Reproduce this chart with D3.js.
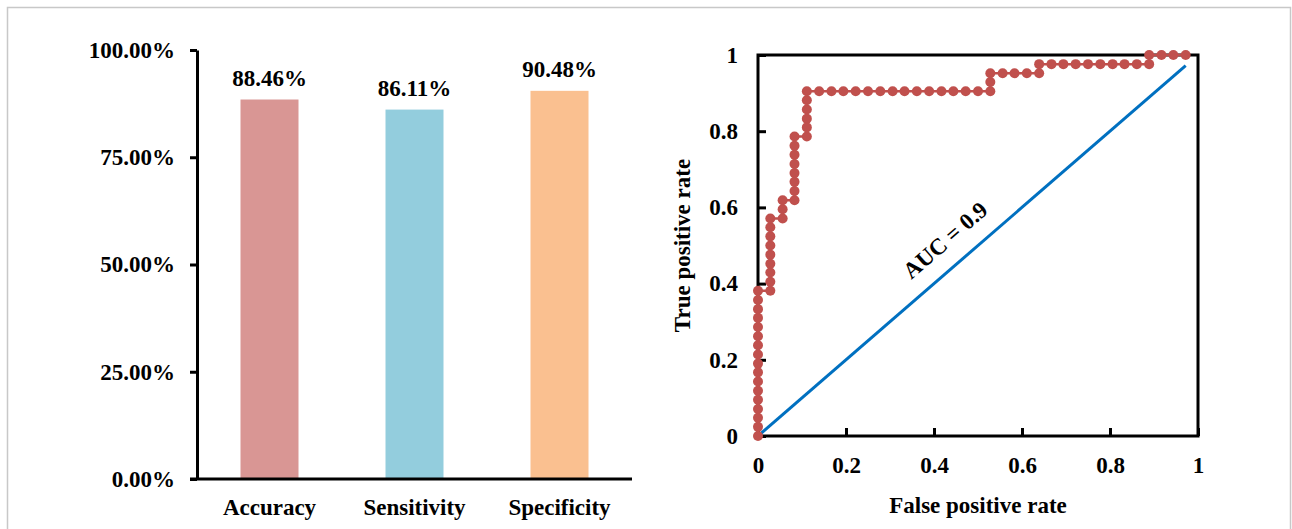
<!DOCTYPE html>
<html>
<head>
<meta charset="utf-8">
<script src="https://cdn.jsdelivr.net/npm/d3@7"></script>
<style>
  body { margin: 0; background: #fff; }
  text { font-family: "Liberation Serif", "Times New Roman", serif; font-weight: bold; fill: #000; }
</style>
</head>
<body>
<svg width="1292" height="529"></svg>
<script>
// bar chart data
var categories = ["Accuracy", "Sensitivity", "Specificity"];
var scores = [0.8846, 0.8611, 0.9048];
var barColors = ["#d99694", "#93cddd", "#fac090"];
var barTicks = [0, 0.25, 0.5, 0.75, 1];

// ROC curve points (false positive rate, true positive rate)
var fpr = [0, 0, 0, 0, 0, 0, 0, 0, 0, 0, 0, 0, 0, 0, 0, 0, 0,
  0.028, 0.028, 0.028, 0.028, 0.028, 0.028, 0.028, 0.028, 0.028,
  0.056, 0.056, 0.056,
  0.083, 0.083, 0.083, 0.083, 0.083, 0.083, 0.083, 0.083,
  0.111, 0.111, 0.111, 0.111, 0.111, 0.111,
  0.139, 0.167, 0.194, 0.222, 0.25, 0.278, 0.306, 0.333, 0.361, 0.389, 0.417, 0.444, 0.472, 0.5, 0.528,
  0.528, 0.528,
  0.556, 0.583, 0.611, 0.639,
  0.639,
  0.667, 0.694, 0.722, 0.75, 0.778, 0.806, 0.833, 0.861, 0.889,
  0.889,
  0.917, 0.944, 0.972];
var tpr = [0, 0.024, 0.048, 0.071, 0.095, 0.119, 0.143, 0.167, 0.19, 0.214, 0.238, 0.262, 0.286, 0.31, 0.333, 0.357, 0.381,
  0.381, 0.405, 0.429, 0.452, 0.476, 0.5, 0.524, 0.548, 0.571,
  0.571, 0.595, 0.619,
  0.619, 0.643, 0.667, 0.69, 0.714, 0.738, 0.762, 0.786,
  0.786, 0.81, 0.833, 0.857, 0.881, 0.905,
  0.905, 0.905, 0.905, 0.905, 0.905, 0.905, 0.905, 0.905, 0.905, 0.905, 0.905, 0.905, 0.905, 0.905, 0.905,
  0.929, 0.952,
  0.952, 0.952, 0.952, 0.952,
  0.976,
  0.976, 0.976, 0.976, 0.976, 0.976, 0.976, 0.976, 0.976, 0.976,
  1,
  1, 1, 1];
var diagX = [0, 0.972];
var diagY = [0, 0.972];
var rocTicks = [0, 0.2, 0.4, 0.6, 0.8, 1];
var aucLabel = "AUC = 0.9";

var svg = d3.select("svg");

// light frame round the figure
svg.append("rect")
  .attr("x", 7.5).attr("y", 7.5)
  .attr("width", 1283).attr("height", 560)
  .attr("fill", "none")
  .attr("stroke", "#c8c8c8")
  .attr("stroke-width", 1.5);

// ---------- bar chart ----------
var xBand = d3.scaleBand()
  .domain(categories)
  .range([197, 632])
  .paddingInner(0.6)
  .paddingOuter(0.3);
var yBar = d3.scaleLinear().domain([0, 1]).range([479, 50]);

var bars = svg.append("g");
bars.selectAll("rect")
  .data(categories)
  .enter().append("rect")
  .attr("x", function(d) { return xBand(d); })
  .attr("y", function(d, i) { return yBar(scores[i]); })
  .attr("width", xBand.bandwidth())
  .attr("height", function(d, i) { return yBar(0) - yBar(scores[i]); })
  .attr("fill", function(d, i) { return barColors[i]; });

bars.selectAll(".val")
  .data(categories)
  .enter().append("text")
  .attr("class", "val")
  .attr("x", function(d) { return xBand(d) + xBand.bandwidth() / 2; })
  .attr("y", function(d, i) { return yBar(scores[i]) - 14; })
  .attr("text-anchor", "middle")
  .attr("font-size", 23)
  .text(function(d, i) { return (scores[i] * 100).toFixed(2) + "%"; });

var yAxisBar = svg.append("g")
  .attr("transform", "translate(197,0)")
  .call(d3.axisLeft(yBar).tickValues(barTicks).tickFormat(d3.format(".2%"))
    .tickSize(7).tickSizeOuter(0).tickPadding(15));
yAxisBar.selectAll("text").attr("font-size", 23).attr("font-family", null);
yAxisBar.selectAll("line").attr("stroke-width", 3);
yAxisBar.select(".domain").attr("stroke-width", 3);

var xAxisBar = svg.append("g")
  .attr("transform", "translate(0,479)")
  .call(d3.axisBottom(xBand).tickSize(0).tickPadding(20));
xAxisBar.select(".domain").remove();
xAxisBar.selectAll("text").attr("font-size", 23).attr("font-family", null);
svg.append("line")
  .attr("x1", 190).attr("x2", xBand.range()[1])
  .attr("y1", 479).attr("y2", 479)
  .attr("stroke", "#000").attr("stroke-width", 3);

// ---------- ROC curve ----------
var xR = d3.scaleLinear().domain([0, 1]).range([758, 1198]);
var yR = d3.scaleLinear().domain([0, 1]).range([436, 55]);

var xAxisR = svg.append("g")
  .attr("transform", "translate(0,436)")
  .call(d3.axisBottom(xR).tickValues(rocTicks).tickFormat(function(d) { return String(d); })
    .tickSizeInner(-8).tickSizeOuter(0).tickPadding(21));
xAxisR.select(".domain").remove();
xAxisR.selectAll("line").attr("stroke-width", 3);
xAxisR.selectAll("text").attr("font-size", 23).attr("font-family", null);

var yAxisR = svg.append("g")
  .attr("transform", "translate(758,0)")
  .call(d3.axisLeft(yR).tickValues(rocTicks).tickFormat(function(d) { return String(d); })
    .tickSizeInner(-8).tickSizeOuter(0).tickPadding(20));
yAxisR.select(".domain").remove();
yAxisR.selectAll("line").attr("stroke-width", 3);
yAxisR.selectAll("text").attr("font-size", 23).attr("font-family", null);

svg.append("rect")
  .attr("x", xR(0)).attr("y", yR(1))
  .attr("width", xR(1) - xR(0)).attr("height", yR(0) - yR(1))
  .attr("fill", "none")
  .attr("stroke", "#000")
  .attr("stroke-width", 3);

var diag = diagX.map(function(x, i) { return [x, diagY[i]]; });
svg.append("path")
  .datum(diag)
  .attr("fill", "none")
  .attr("stroke", "#0070c0")
  .attr("stroke-width", 3)
  .attr("d", d3.line().x(function(d) { return xR(d[0]); }).y(function(d) { return yR(d[1]); }));

var roc = fpr.map(function(x, i) { return [x, tpr[i]]; });
svg.append("path")
  .datum(roc)
  .attr("fill", "none")
  .attr("stroke", "#c0504d")
  .attr("stroke-width", 2.5)
  .attr("d", d3.line().x(function(d) { return xR(d[0]); }).y(function(d) { return yR(d[1]); }));

svg.append("g").selectAll("circle")
  .data(roc)
  .enter().append("circle")
  .attr("cx", function(d) { return xR(d[0]); })
  .attr("cy", function(d) { return yR(d[1]); })
  .attr("r", 5)
  .attr("fill", "#c0504d");

svg.append("text")
  .attr("transform", "translate(945,240) rotate(-41)")
  .attr("text-anchor", "middle")
  .attr("dy", "0.35em")
  .attr("font-size", 23)
  .text(aucLabel);

svg.append("text")
  .attr("x", (xR(0) + xR(1)) / 2)
  .attr("y", 513)
  .attr("text-anchor", "middle")
  .attr("font-size", 23)
  .text("False positive rate");

svg.append("text")
  .attr("transform", "translate(690," + (yR(0) + yR(1)) / 2 + ") rotate(-90)")
  .attr("text-anchor", "middle")
  .attr("font-size", 23)
  .text("True positive rate");
</script>
</body>
</html>
